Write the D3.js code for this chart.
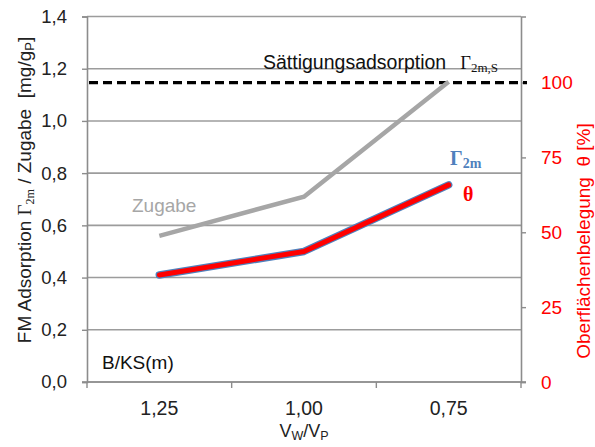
<!DOCTYPE html>
<html><head><meta charset="utf-8">
<script src="https://cdn.jsdelivr.net/npm/d3@7"></script>
<style>body{margin:0;background:#fff}svg{display:block}</style>
</head><body>
<svg id="c" width="595" height="447" font-family="Liberation Sans, Arial, sans-serif"></svg>
<script>
const categories = ["1,25", "1,00", "0,75"];
const zugabe = [0.56, 0.71, 1.15];
const adsorption = [0.41, 0.50, 0.755];
const saturation = 1.147;
const leftTicks = [0, 0.2, 0.4, 0.6, 0.8, 1.0, 1.2, 1.4];
const rightTicks = [0, 25, 50, 75, 100];

const SANS = "Liberation Sans, Arial, sans-serif";
const SERIF = "Liberation Serif, Times New Roman, serif";
const svg = d3.select("#c");
const L = 87, R = 521, T = 16.5, B = 382;
const x = d3.scaleBand().domain(categories).range([L, R]);
const y = d3.scaleLinear().domain([0, 1.4]).range([B, T]);
const y2 = d3.scaleLinear().domain([0, 100 * 1.4 / saturation]).range([B, T]);
const fmt = d => d3.format(".1f")(d).replace(".", ",");

// gridlines
svg.append("g").selectAll("line").data(leftTicks).join("line")
  .attr("x1", L).attr("x2", R).attr("y1", d => y(d)).attr("y2", d => y(d))
  .attr("stroke", "#9c9c9c").attr("stroke-width", 1.6);

// left axis
const gl = svg.append("g").attr("transform", `translate(${L},0)`)
  .call(d3.axisLeft(y).tickValues(leftTicks).tickFormat(fmt).tickSize(5).tickPadding(15));
gl.select(".domain").attr("stroke", "#8c8c8c").attr("stroke-width", 1.6);
gl.selectAll(".tick line").attr("stroke", "#8c8c8c").attr("stroke-width", 1.4);
gl.selectAll(".tick text").attr("font-size", 18.5).attr("fill", "#222").attr("font-family", SANS);

// right axis
const gr = svg.append("g").attr("transform", `translate(${R},0)`)
  .call(d3.axisRight(y2).tickValues(rightTicks).tickSize(5).tickPadding(15));
gr.select(".domain").attr("stroke", "#8c8c8c").attr("stroke-width", 1.6);
gr.selectAll(".tick line").attr("stroke", "#8c8c8c").attr("stroke-width", 1.4);
gr.selectAll(".tick text").attr("font-size", 19).attr("fill", "#ff0000").attr("font-family", SANS);

// bottom axis
const boundaries = categories.map(c => x(c)).concat([R]);
svg.append("line").attr("x1", L - 5).attr("x2", R + 5).attr("y1", B).attr("y2", B)
  .attr("stroke", "#8c8c8c").attr("stroke-width", 1.6);
svg.append("g").selectAll("line").data(boundaries).join("line")
  .attr("x1", d => d).attr("x2", d => d).attr("y1", B).attr("y2", B + 6)
  .attr("stroke", "#8c8c8c").attr("stroke-width", 1.4);
svg.append("g").selectAll("text").data(categories).join("text")
  .attr("x", d => x(d) + x.bandwidth() / 2).attr("y", 415).attr("text-anchor", "middle")
  .attr("font-size", 19.5).attr("fill", "#222").text(d => d);

const cx = (d, i) => x(categories[i]) + x.bandwidth() / 2;

// saturation dashed line
svg.append("line").attr("x1", L + 2).attr("x2", R + 6)
  .attr("y1", y(saturation)).attr("y2", y(saturation))
  .attr("stroke", "#000").attr("stroke-width", 3.2).attr("stroke-dasharray", "9,5");

// Zugabe line
svg.append("path").datum(zugabe)
  .attr("d", d3.line().x(cx).y(d => y(d)))
  .attr("fill", "none").attr("stroke", "#a6a6a6").attr("stroke-width", 4.5);

// adsorption line (blue outline with red core)
const adsLine = d3.line().x(cx).y(d => y(d));
svg.append("path").datum(adsorption).attr("d", adsLine)
  .attr("fill", "none").attr("stroke", "#4f81bd").attr("stroke-width", 7.5)
  .attr("stroke-linecap", "round").attr("stroke-linejoin", "round");
svg.append("path").datum(adsorption).attr("d", adsLine)
  .attr("fill", "none").attr("stroke", "#ff0000").attr("stroke-width", 5)
  .attr("stroke-linecap", "round").attr("stroke-linejoin", "round");

// labels
const sat = svg.append("text").attr("x", 263).attr("y", 69).attr("font-size", 19.5).attr("fill", "#111");
sat.append("tspan").text("Sättigungsadsorption");
sat.append("tspan").attr("font-family", SERIF).attr("font-size", 18.5).attr("dx", 14).text("Γ");
sat.append("tspan").attr("font-family", SERIF).attr("font-size", 13).attr("dy", 3).text("2m,S");

svg.append("text").attr("x", 132).attr("y", 212).attr("font-size", 19).attr("fill", "#a6a6a6").text("Zugabe");

const g2 = svg.append("text").attr("x", 450).attr("y", 164.5).attr("font-family", SERIF)
  .attr("font-weight", "bold").attr("fill", "#4f81bd").attr("font-size", 20);
g2.append("tspan").text("Γ");
g2.append("tspan").attr("font-size", 14).attr("dy", 3).text("2m");

svg.append("text").attr("x", 463).attr("y", 200.5).attr("font-family", SERIF)
  .attr("font-weight", "bold").attr("fill", "#ff0000").attr("font-size", 20).text("θ");

svg.append("text").attr("x", 102).attr("y", 369).attr("font-size", 19).attr("fill", "#111").text("B/KS(m)");

// x title
const xt = svg.append("text").attr("x", 304).attr("y", 437).attr("text-anchor", "middle").attr("font-size", 18).attr("fill", "#222");
xt.append("tspan").text("V");
xt.append("tspan").attr("font-size", 12.5).attr("dy", 2.5).text("W");
xt.append("tspan").attr("dy", -2.5).text("/V");
xt.append("tspan").attr("font-size", 12.5).attr("dy", 2.5).text("P");

// left title
const lt = svg.append("text").attr("transform", "translate(31,190) rotate(-90)").attr("text-anchor", "middle")
  .attr("font-size", 19).attr("fill", "#222").attr("xml:space", "preserve");
lt.append("tspan").text("FM Adsorption ");
lt.append("tspan").attr("font-family", SERIF).attr("font-size", 19).text("Γ");
lt.append("tspan").attr("font-family", SERIF).attr("font-size", 12).attr("dy", 3).text("2m");
lt.append("tspan").attr("dy", -3).text(" / Zugabe  [mg/g");
lt.append("tspan").attr("font-size", 13).attr("dy", 3).text("P");
lt.append("tspan").attr("dy", -3).text("]");

// right title
svg.append("text").attr("transform", "translate(590,241) rotate(-90)").attr("text-anchor", "middle")
  .attr("font-size", 19).attr("fill", "#ff0000").attr("xml:space", "preserve").text("Oberflächenbelegung  θ [%]");
</script>
</body></html>
